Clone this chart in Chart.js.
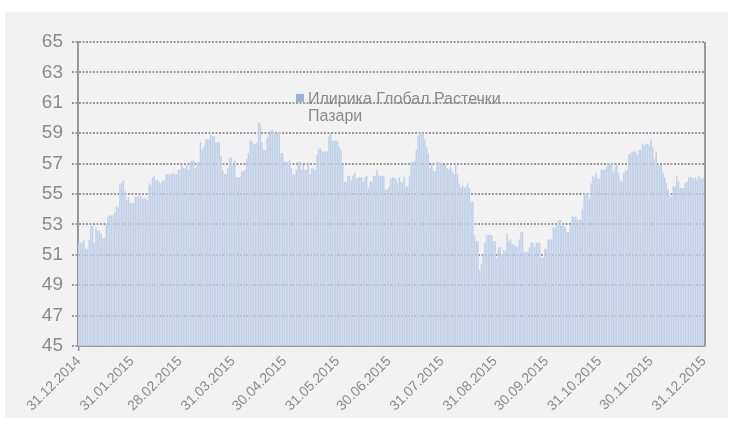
<!DOCTYPE html>
<html>
<head>
<meta charset="utf-8">
<script src="https://cdn.jsdelivr.net/npm/chart.js@4.4.1/dist/chart.umd.min.js"></script>
<style>
  html, body { margin: 0; padding: 0; background: #ffffff; }
  #wrap { position: absolute; left: 5px; top: 12px; width: 723px; height: 406px; background: #f2f2f2; }
  #legend { position: absolute; left: 296px; top: 90px; width: 225px; font: 16px "Liberation Sans", Arial, sans-serif; color: #8a8a8a; line-height: 17px; }
  #legend .box { position: absolute; left: 0; top: 4px; width: 8px; height: 8px; background: #95b3d7; }
  #legend .txt { margin-left: 12px; }
</style>
</head>
<body>
<div id="wrap"><canvas id="chart" width="723" height="406"></canvas></div>
<div id="legend"><span class="box"></span><div class="txt">Илирика Глобал Растечки Пазари</div></div>
<script>
const seriesName = 'Илирика Глобал Растечки Пазари';

// month-end tick labels on the x axis
const tickLabels = ['31.12.2014', '31.01.2015', '28.02.2015', '31.03.2015', '30.04.2015', '31.05.2015',
    '30.06.2015', '31.07.2015', '31.08.2015', '30.09.2015', '31.10.2015', '30.11.2015', '31.12.2015'];

// daily values, one per calendar day
const dec2014 = [51.8];
const jan = [51.8, 51.8, 52.0, 51.4, 51.4, 52.0, 52.9, 52.9, 51.8, 52.8, 52.6, 52.6, 52.4, 52.1, 52.1, 53.0,
    53.5, 53.6, 53.6, 53.6, 53.8, 54.2, 54.1, 55.7, 55.7, 55.9, 55.2, 54.6, 54.8, 54.4, 54.4];
const feb = [54.4, 54.8, 54.8, 54.8, 54.9, 54.7, 54.7, 54.7, 54.6, 55.7, 55.6, 56.1, 56.2, 55.9, 55.9, 55.8,
    55.7, 55.9, 55.9, 56.3, 56.3, 56.3, 56.3, 56.4, 56.3, 56.3, 56.6, 56.6];
const mar = [56.9, 56.7, 56.7, 56.9, 56.6, 57.1, 57.2, 57.2, 56.7, 57.1, 57.1, 58.4, 57.9, 58.1, 58.6, 58.6,
    58.6, 58.9, 58.8, 58.8, 58.4, 58.4, 58.4, 57.5, 56.6, 56.3, 56.3, 56.7, 57.4, 57.4, 56.9];
const apr = [57.2, 56.1, 56.1, 56.1, 56.5, 56.5, 56.6, 57.3, 57.7, 58.5, 58.5, 58.3, 58.3, 58.4, 59.7, 59.6,
    58.4, 57.9, 57.9, 58.7, 59.0, 59.2, 59.2, 59.0, 59.0, 59.0, 59.1, 57.7, 57.7, 57.1];
const may = [57.1, 57.1, 57.2, 56.7, 56.3, 56.3, 56.6, 57.1, 57.1, 56.6, 56.9, 56.6, 56.6, 57.1, 56.3, 56.7,
    56.7, 56.6, 57.6, 58.0, 58.0, 57.8, 57.8, 57.8, 57.8, 58.8, 59.0, 58.5, 58.5, 58.5, 58.5];
const jun = [58.1, 57.9, 56.9, 55.8, 55.8, 56.2, 56.2, 55.9, 56.2, 56.4, 56.0, 56.1, 56.1, 56.1, 55.8, 56.1,
    56.2, 55.4, 55.8, 55.8, 56.2, 56.2, 56.6, 56.2, 56.2, 56.2, 56.2, 55.3, 55.3, 55.5];
const jul = [56.0, 56.1, 56.1, 56.0, 55.7, 56.1, 55.8, 55.8, 56.1, 55.5, 55.5, 56.2, 57.1, 57.1, 57.2, 57.9,
    58.8, 59.0, 59.0, 59.0, 58.6, 58.1, 57.7, 56.7, 57.0, 56.5, 56.5, 57.1, 57.1, 57.0, 57.0];
const aug = [56.9, 56.9, 56.7, 56.6, 56.8, 56.5, 56.3, 56.9, 56.3, 55.7, 55.4, 55.6, 55.4, 55.5, 55.7, 55.4,
    54.5, 54.5, 52.3, 51.9, 51.9, 50.0, 50.4, 51.0, 51.8, 52.3, 52.3, 52.3, 52.3, 51.9, 51.9];
const sep = [50.8, 51.5, 51.5, 51.0, 51.3, 51.3, 52.4, 51.9, 52.0, 51.7, 51.7, 51.6, 51.5, 52.0, 52.5, 52.5,
    51.2, 51.2, 51.2, 51.5, 51.8, 51.8, 51.5, 51.8, 51.8, 51.8, 50.8, 50.8, 51.4, 51.4];
const oct = [52.0, 52.0, 52.0, 52.8, 52.8, 53.0, 53.2, 53.3, 52.9, 52.9, 52.8, 52.5, 52.5, 53.0, 53.5, 53.5,
    53.5, 53.3, 53.3, 53.3, 54.0, 55.0, 55.0, 55.0, 54.7, 55.7, 56.2, 56.1, 56.4, 56.0, 56.0];
const nov = [56.6, 56.6, 56.6, 56.8, 57.0, 57.0, 57.0, 56.5, 56.8, 56.9, 56.4, 55.9, 55.8, 56.4, 56.5, 56.6,
    57.6, 57.7, 57.8, 57.8, 57.8, 57.6, 57.9, 57.9, 58.3, 58.2, 58.3, 58.3, 58.2, 58.6];
const dec = [58.1, 57.3, 57.8, 56.9, 56.9, 56.9, 56.4, 56.1, 55.7, 55.3, 54.9, 54.8, 55.5, 55.5, 56.2, 55.8,
    55.4, 55.4, 55.4, 55.7, 55.8, 56.1, 56.1, 56.1, 56.0, 56.1, 55.9, 56.2, 56.0, 56.0, 56.1];

const values = [].concat(dec2014, jan, feb, mar, apr, may, jun, jul, aug, sep, oct, nov, dec);

// one category per calendar day
const days = [];
for (let t = new Date(2014, 11, 31); days.length < values.length; t.setDate(t.getDate() + 1)) {
    const dd = String(t.getDate()).padStart(2, '0');
    const mm = String(t.getMonth() + 1).padStart(2, '0');
    days.push(dd + '.' + mm + '.' + t.getFullYear());
}

const axisGrey = '#999999';
const textGrey = '#8a8a8a';

const rightBorder = {
    id: 'rightBorder',
    afterDraw(chart) {
        const a = chart.chartArea;
        const c = chart.ctx;
        c.save();
        c.strokeStyle = axisGrey;
        c.lineWidth = 2;
        c.beginPath();
        c.moveTo(a.right, a.top);
        c.lineTo(a.right, a.bottom);
        c.stroke();
        c.restore();
    }
};

new Chart(document.getElementById('chart').getContext('2d'), {
    type: 'bar',
    data: {
        labels: days,
        datasets: [{
            label: seriesName,
            data: values,
            backgroundColor: '#bfd0e8',
            borderWidth: 0,
            barPercentage: 1,
            categoryPercentage: 0.85
        }]
    },
    options: {
        responsive: false,
        animation: false,
        layout: { padding: { top: 30, right: 23, left: 0, bottom: 0 } },
        plugins: {
            legend: { display: false },
            tooltip: { enabled: false }
        },
        scales: {
            x: {
                afterFit: s => { s.height = 72; },
                border: { color: axisGrey, width: 2 },
                grid: {
                    offset: false,
                    drawOnChartArea: false,
                    tickLength: 5,
                    lineWidth: 1.5,
                    color: ctx => tickLabels.includes(days[ctx.index]) ? axisGrey : 'rgba(0,0,0,0)'
                },
                ticks: {
                    autoSkip: false,
                    minRotation: 45,
                    maxRotation: 45,
                    padding: 2,
                    color: textGrey,
                    font: { family: 'Liberation Sans', size: 14 },
                    callback: function (v, i) {
                        const l = days[i];
                        return tickLabels.includes(l) ? l : null;
                    }
                }
            },
            y: {
                min: 45,
                max: 65,
                afterFit: s => { s.width = 73; },
                border: { color: axisGrey, width: 2, dash: [2, 1.5] },
                grid: {
                    color: '#9a9a9a',
                    lineWidth: 2,
                    tickLength: 6,
                    tickBorderDash: [2, 1.5]
                },
                ticks: {
                    stepSize: 2,
                    padding: 9,
                    color: textGrey,
                    font: { family: 'Liberation Sans', size: 19 }
                }
            }
        }
    },
    plugins: [rightBorder]
});
</script>
</body>
</html>
